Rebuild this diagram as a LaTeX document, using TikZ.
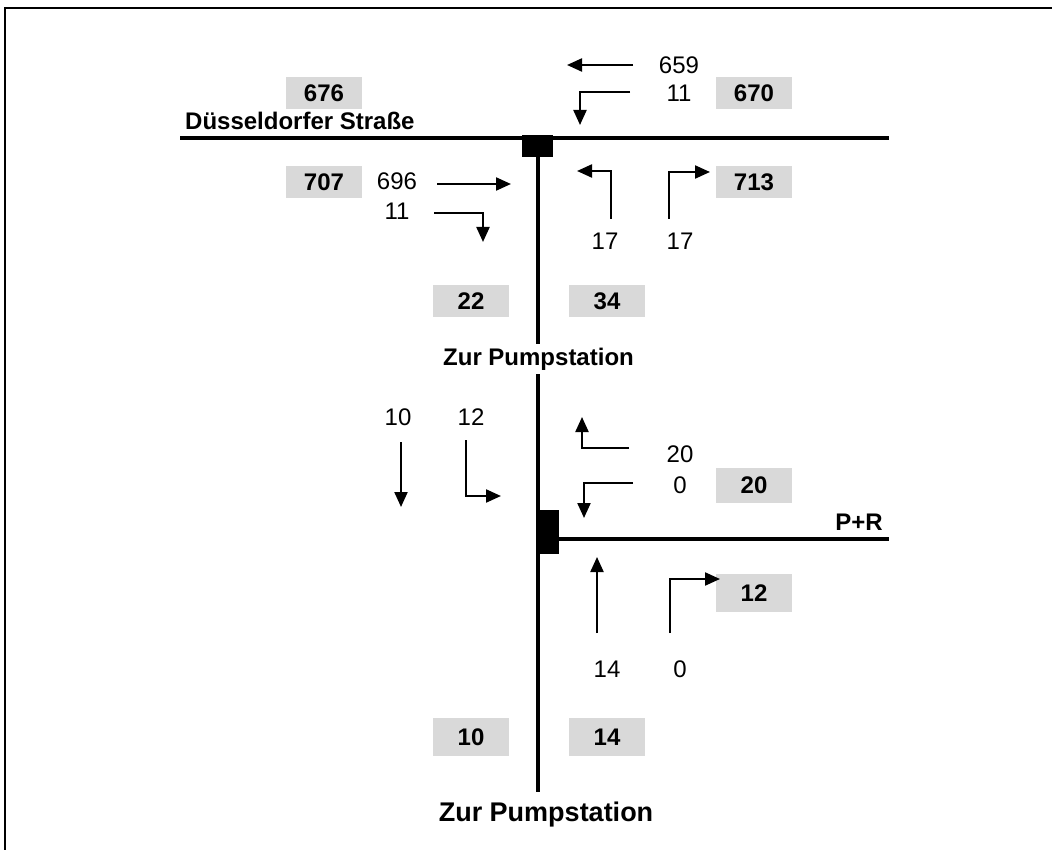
\documentclass[tikz,border=0pt]{standalone}
\usepackage{fontspec}
\setmainfont{Liberation Sans}
\usetikzlibrary{arrows.meta}
\definecolor{boxgray}{RGB}{217,217,217}
\begin{document}
\begin{tikzpicture}[x=1pt,y=-1pt,
  road/.style={line width=4pt},
  flow/.style={line width=2.2pt,-{Triangle[length=15pt,width=13pt]}},
  num/.style={font=\fontsize{24}{28}\selectfont, inner sep=0pt, anchor=base},
  sumbox/.style={fill=boxgray, minimum width=76pt, minimum height=32pt, inner sep=0pt, font=\bfseries\fontsize{24}{28}\selectfont},
  lbl/.style={font=\bfseries\fontsize{24}{28}\selectfont, inner sep=0pt},
  junction/.style={fill=black, inner sep=0pt}]
\useasboundingbox (0,0) rectangle (1052,850);
% frame
\coordinate (fBL) at (5,850);
\coordinate (fTL) at (5,8);
\coordinate (fTR) at (1052,8);
\draw[line width=2.5pt] (fBL) -- (fTL) -- (fTR);
% roads
\coordinate (dW) at (180,138);
\coordinate (dE) at (889,138);
\coordinate (vTop) at (537.5,146);
\coordinate (vEnd) at (537.5,792);
\coordinate (pW) at (559,539);
\coordinate (pE) at (889,539);
\draw[road] (dW) -- (dE);
\draw[road] (vTop) -- (vEnd);
\draw[road] (pW) -- (pE);
\node[junction, minimum width=31pt, minimum height=22pt] (J1) at (537.5,146) {};
\node[junction, minimum width=23pt, minimum height=44pt] (J2) at (547.5,532) {};
% labels
\node[lbl, anchor=base west] (street) at (185,130) {Düsseldorfer Straße};
\node[lbl, anchor=base, fill=white, inner sep=4pt] (pump1) at (538.5,365) {Zur Pumpstation};
\node[lbl, anchor=base, font=\bfseries\fontsize{27}{32}\selectfont] (pump2) at (546,821) {Zur Pumpstation};
\node[lbl, anchor=base east] (pr) at (883,530) {P+R};
% sum boxes
\node[sumbox] (b676) at (324,93.5) {676};
\node[sumbox] (b670) at (754,93.5) {670};
\node[sumbox] (b707) at (324,182.5) {707};
\node[sumbox] (b713) at (754,182.5) {713};
\node[sumbox] (b22) at (471,301) {22};
\node[sumbox] (b34) at (607,301) {34};
\node[sumbox, minimum height=35pt] (b20) at (754,485.5) {20};
\node[sumbox, minimum height=38pt] (b12) at (754,593) {12};
\node[sumbox, minimum height=38pt] (b10) at (471,737) {10};
\node[sumbox, minimum height=38pt] (b14) at (607,737) {14};
% flow numbers
\node[num] (n659) at (679,74) {659};
\node[num] (n11a) at (679,102) {11};
\node[num] (n696) at (397,190) {696};
\node[num] (n11b) at (397,220) {11};
\node[num] (n17a) at (605,250) {17};
\node[num] (n17b) at (680,250) {17};
\node[num] (n10) at (398,425) {10};
\node[num] (n12) at (471,425) {12};
\node[num] (n20) at (680,462) {20};
\node[num] (n0a) at (680,493) {0};
\node[num] (n14) at (607,677) {14};
\node[num] (n0b) at (680,677) {0};
% turning arrows
\coordinate (a659s) at (633,65);  \coordinate (a659e) at (567,65);
\coordinate (a11as) at (630,92);  \coordinate (a11ae) at (580,125);
\coordinate (a696s) at (437,184); \coordinate (a696e) at (511,184);
\coordinate (a11bs) at (434,213); \coordinate (a11be) at (483,242);
\coordinate (a17as) at (611,219); \coordinate (a17ae) at (577,171);
\coordinate (a17bs) at (669,219); \coordinate (a17be) at (710,172);
\coordinate (a10s) at (401,442);  \coordinate (a10e) at (401,507);
\coordinate (a12s) at (466,440);  \coordinate (a12e) at (501,496);
\coordinate (a20s) at (629,448);  \coordinate (a20e) at (582,417);
\coordinate (a0as) at (633,483);  \coordinate (a0ae) at (584,518);
\coordinate (a14s) at (597,633);  \coordinate (a14e) at (597,557);
\coordinate (a0bs) at (670,633);  \coordinate (a0be) at (720,579);
\draw[flow] (a659s) -- (a659e);
\draw[flow] (a11as) -| (a11ae);
\draw[flow] (a696s) -- (a696e);
\draw[flow] (a11bs) -| (a11be);
\draw[flow] (a17as) |- (a17ae);
\draw[flow] (a17bs) |- (a17be);
\draw[flow] (a10s) -- (a10e);
\draw[flow] (a12s) |- (a12e);
\draw[flow] (a20s) -| (a20e);
\draw[flow] (a0as) -| (a0ae);
\draw[flow] (a14s) -- (a14e);
\draw[flow] (a0bs) |- (a0be);
\end{tikzpicture}
\end{document}
